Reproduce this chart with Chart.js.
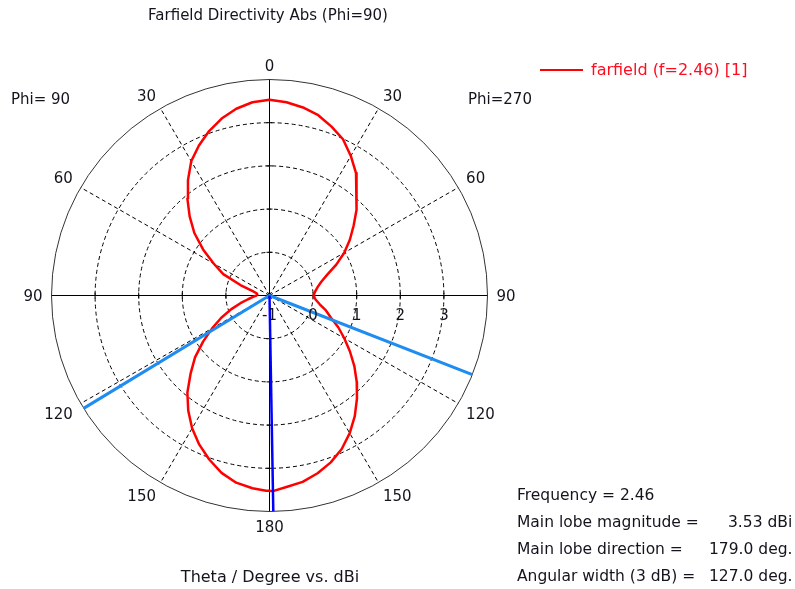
<!DOCTYPE html>
<html>
<head>
<meta charset="utf-8">
<script src="https://cdn.jsdelivr.net/npm/chart.js@4/dist/chart.umd.min.js"></script>
<style>
  html, body { margin: 0; padding: 0; background: #ffffff; overflow: hidden; }
  canvas { display: block; }
</style>
</head>
<body>
<canvas id="c" width="795" height="589" style="width:795px;height:589px"></canvas>
<script>
// Theta cut of the farfield directivity (dBi), phi = 90 on the left half, phi = 270 on the right half.
const thetaDeg = [0, 5, 10, 15, 20, 25, 30, 35, 40, 45, 50, 55, 60, 65, 70, 75, 80, 85, 90,
                  95, 100, 105, 110, 115, 120, 125, 130, 135, 140, 145, 150, 155, 160, 165, 170, 175, 179, 180];
const dirPhi90 = [3.53, 3.49, 3.39, 3.24, 3.05, 2.83, 2.59, 2.26, 1.93, 1.59, 1.25, 0.86, 0.48, 0.17, -0.29, -0.59, -0.70, -0.72, -0.70,
                  -0.62, -0.50, -0.31, -0.06, 0.22, 0.52, 0.86, 1.23, 1.56, 1.93, 2.25, 2.55, 2.81, 3.04, 3.25, 3.40, 3.48, 3.52, 3.52];
const dirPhi270 = [3.53, 3.49, 3.42, 3.32, 3.16, 2.99, 2.73, 2.46, 2.12, 1.81, 1.52, 1.25, 0.98, 0.69, 0.41, 0.23, 0.12, 0.05, 0.01,
                   0.06, 0.17, 0.34, 0.50, 0.74, 0.98, 1.25, 1.54, 1.83, 2.12, 2.41, 2.68, 2.92, 3.11, 3.26, 3.38, 3.45, 3.53, 3.52];

// Radial (dBi) axis and angular labels
const radialMin = -1;
const radialMax = 4;
const radialTicks = [-1, 0, 1, 2, 3];
const angleTicks = [0, 30, 60, 90, 120, 150, 180];

// Main lobe summary
const frequency = 2.46;
const mainLobeMag = 3.53;
const mainLobeDir = 179.0;      // on the phi = 270 half
const beamEdgePhi270 = 111.5;   // -3 dB edge, phi = 270 half
const beamEdgePhi90 = 121.5;    // -3 dB edge, phi = 90 half
const angularWidth = 127.0;

const R = radialMax - radialMin;
const rad = d => d * Math.PI / 180;
// side = +1 for the phi = 270 half (right), -1 for the phi = 90 half (left)
function toXY(theta, dB, side) {
  const r = Math.max(0, dB - radialMin);
  return { x: side * r * Math.sin(rad(theta)), y: r * Math.cos(rad(theta)) };
}

const curve = [];
thetaDeg.forEach((t, i) => curve.push(toXY(t, dirPhi270[i], 1)));
for (let i = thetaDeg.length - 1; i >= 0; i--) curve.push(toXY(thetaDeg[i], dirPhi90[i], -1));

const beamLine = [toXY(beamEdgePhi270, radialMax, 1), { x: 0, y: 0 }, toXY(beamEdgePhi90, radialMax, -1)];
const dirLine = [{ x: 0, y: 0 }, toXY(mainLobeDir, radialMax, 1)];

const FONT = '"DejaVu Sans", sans-serif';
const TXT = '#14141e';

const polarGrid = {
  id: 'polarGrid',
  beforeDatasetsDraw(chart) {
    const { ctx, scales: { x, y } } = chart;
    const cx = x.getPixelForValue(0), cy = y.getPixelForValue(0);
    const rx = v => x.getPixelForValue(v) - cx;
    const ry = v => cy - y.getPixelForValue(v);
    ctx.save();
    ctx.lineWidth = 1;
    // dashed rings
    ctx.strokeStyle = '#000';
    ctx.setLineDash([4, 3]);
    for (const t of radialTicks) {
      const r = t - radialMin;
      if (r <= 0) continue;
      ctx.beginPath();
      ctx.ellipse(cx, cy, rx(r), ry(r), 0, 0, Math.PI * 2);
      ctx.stroke();
    }
    // dashed spokes
    for (const a of angleTicks) {
      if (a % 90 === 0) continue;
      for (const side of [1, -1]) {
        const p = toXY(a, radialMax, side);
        ctx.beginPath();
        ctx.moveTo(cx, cy);
        ctx.lineTo(x.getPixelForValue(p.x), y.getPixelForValue(p.y));
        ctx.stroke();
      }
    }
    ctx.setLineDash([]);
    // outer ring
    ctx.strokeStyle = '#333333';
    ctx.beginPath();
    ctx.ellipse(cx, cy, rx(R), ry(R), 0, 0, Math.PI * 2);
    ctx.stroke();
    // solid axes
    ctx.strokeStyle = '#000';
    ctx.beginPath();
    ctx.moveTo(cx, cy - ry(R)); ctx.lineTo(cx, cy + ry(R));
    ctx.moveTo(cx - rx(R), cy); ctx.lineTo(cx + rx(R), cy);
    ctx.stroke();
    // ticks where rings cross the axes
    ctx.beginPath();
    for (const t of radialTicks) {
      const r = t - radialMin;
      if (r <= 0) continue;
      for (const s of [1, -1]) {
        const px = cx + s * rx(r);
        ctx.moveTo(px, cy - 3); ctx.lineTo(px, cy + 3);
        const py = cy + s * ry(r);
        ctx.moveTo(cx - 3, py); ctx.lineTo(cx + 3, py);
      }
    }
    ctx.stroke();
    ctx.restore();
  },
  afterDraw(chart) {
    const { ctx, scales: { x, y } } = chart;
    const cx = x.getPixelForValue(0), cy = y.getPixelForValue(0);
    ctx.save();
    ctx.fillStyle = TXT;
    ctx.font = '15px ' + FONT;
    ctx.textBaseline = 'middle';
    ctx.textAlign = 'center';
    // radial tick labels under the horizontal axis
    for (const t of radialTicks) {
      ctx.fillText(String(t), x.getPixelForValue(t - radialMin), cy + 21);
    }
    // angle labels: anchored a little outside the outer ring, text box on the outer side
    ctx.textBaseline = 'alphabetic';
    const gap = 9, digitH = 11;
    for (const a of angleTicks) {
      for (const side of (a === 0 || a === 180) ? [1] : [1, -1]) {
        const txt = String(a);
        const ux = side * Math.sin(rad(a)), uy = -Math.cos(rad(a));
        const edge = toXY(a, radialMax, side);
        const ax = x.getPixelForValue(edge.x) + ux * gap;
        const ay = y.getPixelForValue(edge.y) + uy * gap;
        ctx.textAlign = Math.abs(ux) < 0.01 ? 'center' : (ux < 0 ? 'right' : 'left');
        let by;
        if (Math.abs(uy) < 0.01) by = ay + digitH / 2;
        else if (uy < 0) by = ay;
        else by = ay + digitH;
        ctx.fillText(txt, ax, by);
      }
    }
    ctx.textBaseline = 'middle';
    ctx.textAlign = 'center';
    // titles
    ctx.fillText('Farfield Directivity Abs (Phi=90)', 268, 16);
    ctx.font = '16px ' + FONT;
    ctx.fillText('Theta / Degree vs. dBi', 270, 578);
    ctx.font = '15px ' + FONT;
    ctx.textAlign = 'left';
    ctx.fillText('Phi= 90', 11, 100);
    ctx.fillText('Phi=270', 468, 100);
    // legend
    ctx.strokeStyle = '#ff0000';
    ctx.lineWidth = 2;
    ctx.beginPath(); ctx.moveTo(540, 70); ctx.lineTo(583, 70); ctx.stroke();
    ctx.fillStyle = '#ff0d1f';
    ctx.font = '16px ' + FONT;
    ctx.fillText('farfield (f=' + frequency.toFixed(2) + ') [1]', 591, 71);
    // main lobe summary
    ctx.font = '15.5px ' + FONT;
    ctx.fillStyle = TXT;
    ctx.fillText('Frequency = ' + frequency.toFixed(2), 517, 496);
    ctx.fillText('Main lobe magnitude =', 517, 523);
    ctx.fillText(mainLobeMag.toFixed(2) + ' dBi', 728, 523);
    ctx.fillText('Main lobe direction =', 517, 550);
    ctx.fillText(mainLobeDir.toFixed(1) + ' deg.', 709, 550);
    ctx.fillText('Angular width (3 dB) =', 517, 577);
    ctx.fillText(angularWidth.toFixed(1) + ' deg.', 709, 577);
    ctx.restore();
  }
};

new Chart(document.getElementById('c'), {
  type: 'scatter',
  data: {
    datasets: [
      { label: 'main lobe direction', data: dirLine, showLine: true, borderColor: '#0000ff', borderWidth: 2.5,
        pointRadius: 0, order: 0 },
      { label: '3 dB width', data: beamLine, showLine: true, borderColor: '#1e8cf0', borderWidth: 3,
        pointRadius: 0, order: 1 },
      { label: 'farfield (f=2.46) [1]', data: curve, showLine: true, borderColor: '#ff0000', borderWidth: 2.5,
        pointRadius: 0, tension: 0, order: 2 }
    ]
  },
  options: {
    responsive: false,
    animation: false,
    devicePixelRatio: 1,
    layout: { padding: { left: 51.5, right: 307.5, top: 79.5, bottom: 77.5 } },
    plugins: { legend: { display: false }, tooltip: { enabled: false }, title: { display: false } },
    scales: {
      x: { type: 'linear', min: -R, max: R, display: false },
      y: { type: 'linear', min: -R, max: R, display: false }
    },
    elements: { line: { borderJoinStyle: 'round', borderCapStyle: 'butt' } }
  },
  plugins: [polarGrid]
});
</script>
</body>
</html>
